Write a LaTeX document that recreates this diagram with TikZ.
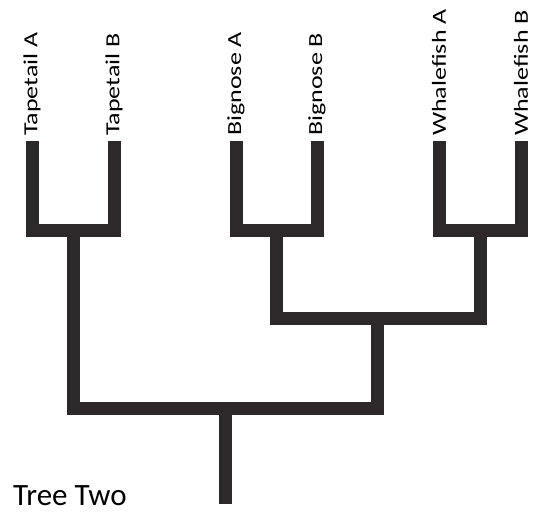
\documentclass[tikz,border=0pt]{standalone}
\usepackage{fontspec}
\usepackage{graphicx}
\setmainfont{Carlito}
\definecolor{branchcol}{RGB}{45,41,42}
\tikzset{
  branch/.style={line width=13pt, color=branchcol, line join=miter, line cap=butt},
  leaflbl/.style={rotate=90, anchor=west, inner sep=0pt, font=\fontsize{20}{24}\selectfont}
}
\newcommand{\stretchlbl}[1]{\scalebox{1.3}[1]{#1}}
\begin{document}
\begin{tikzpicture}[x=1pt, y=-1pt]
    \useasboundingbox (0,0) rectangle (534,512);

    % Leaf tips
    \coordinate (ta) at (32,141);
    \coordinate (tb) at (114,141);
    \coordinate (ba) at (236,141);
    \coordinate (bb) at (317,141);
    \coordinate (wa) at (439,141);
    \coordinate (wb) at (521,141);

    % Leaf labels
    \node[leaflbl] (lta) at (32,136) {\stretchlbl{Tapetail A}};
    \node[leaflbl] (ltb) at (114,136) {\stretchlbl{Tapetail B}};
    \node[leaflbl] (lba) at (236,136) {\stretchlbl{Bignose A}};
    \node[leaflbl] (lbb) at (317,136) {\stretchlbl{Bignose B}};
    \node[leaflbl] (lwa) at (439,136) {\stretchlbl{Whalefish A}};
    \node[leaflbl] (lwb) at (521,136) {\stretchlbl{Whalefish B}};

    % Joins
    \coordinate (jt) at (73.5,230);
    \coordinate (jb) at (276.5,230);
    \coordinate (jw) at (480,230);
    \coordinate (jbw) at (377,318);
    \coordinate (jroot) at (225,408);
    \coordinate (root) at (225,504);

    % Branches
    \draw[branch] (ta) |- (jt) -| (tb);
    \draw[branch] (ba) |- (jb) -| (bb);
    \draw[branch] (wa) |- (jw) -| (wb);
    \draw[branch] (jb) |- (jbw) -| (jw);
    \draw[branch] (jt) |- (jroot) -| (jbw);
    \draw[branch] (jroot) -- (root);

    % Title
    \node[anchor=base west, inner sep=0pt, font=\fontsize{31}{36}\selectfont] (title) at (13,505) {Tree Two};
\end{tikzpicture}
\end{document}
